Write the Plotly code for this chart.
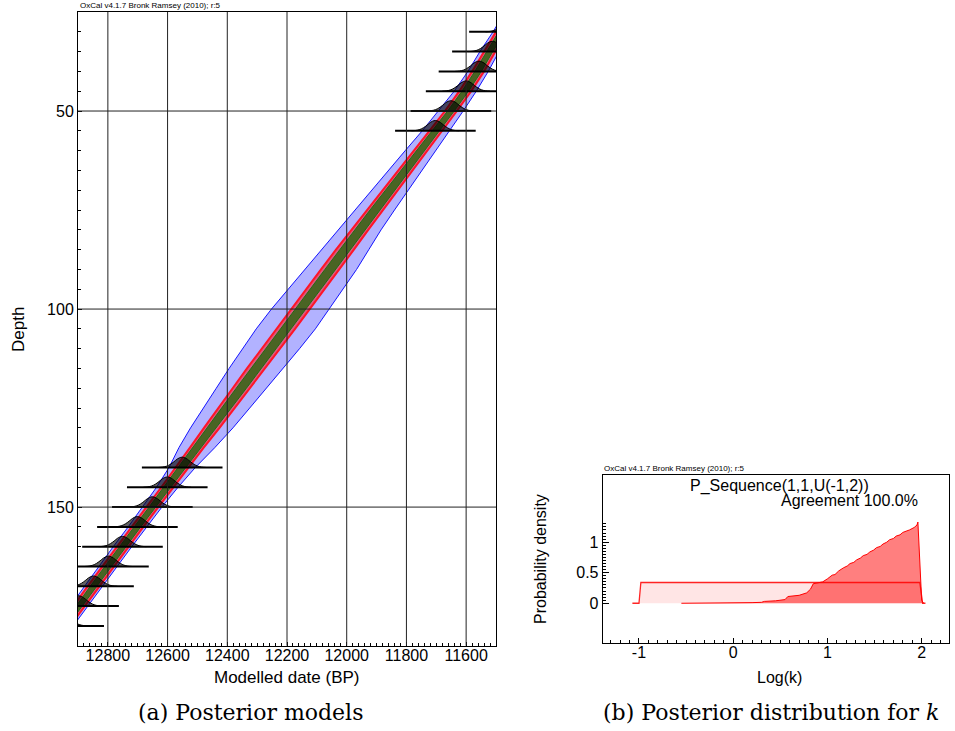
import plotly.graph_objects as go

# ---------------- data: left panel (age-depth model) ----------------
band_depth = [25, 30, 35, 40, 45, 50, 55, 60, 65, 70, 75, 80, 85, 90, 95, 100, 105,
              110, 115, 120, 125, 130, 135, 140, 145, 150, 155, 160, 165, 170, 175, 180, 185]
band_center = [11440, 11480, 11522, 11560, 11603, 11651, 11702, 11752, 11803, 11855, 11906,
               11957, 12006, 12055, 12105, 12155, 12204, 12254, 12304, 12353, 12403, 12452,
               12502, 12551, 12601, 12651, 12701, 12751, 12799, 12848, 12895, 12945, 12995]
blue_hw = [30, 30, 32, 34, 37, 41, 45, 52, 57, 61, 66, 72, 80, 88, 93, 97, 99,
           96, 90, 84, 78, 71, 60, 44, 36, 32, 31, 31, 30, 30, 29, 29, 29]
red_hw = [20, 20, 20, 20, 20, 20, 21, 23, 25, 27, 28, 29, 30, 31, 31, 31, 31,
          31, 30, 29, 28, 26, 23, 21, 20, 20, 20, 20, 20, 20, 20, 20, 20]
green_hw = [11, 11, 11, 11, 11, 11, 12, 13, 14, 15, 16, 17, 17, 18, 18, 18, 18,
            18, 17, 17, 16, 15, 13, 12, 11, 11, 11, 11, 11, 11, 11, 11, 11]

# individual depth posteriors (humps)
hump_depth = [30, 35, 40, 45, 50, 55, 140, 145, 150, 155, 160, 165, 170, 175, 180]
hump_center = [11455, 11512, 11557, 11600, 11651, 11703, 12551, 12601, 12651, 12701,
               12751, 12798, 12848, 12898, 12948]
hump_offset = [-80, -65, -52, -40, -28, -17, -9, 0, 9, 17, 28, 40, 52, 65, 80]
hump_profile = [0, 0.04, 0.13, 0.3, 0.55, 0.81, 0.94, 1, 0.94, 0.81, 0.55, 0.3, 0.13, 0.04, 0]
hump_height = 2.6
hump_halfspan = 135

date_ticks = [12800, 12600, 12400, 12200, 12000, 11800, 11600]
date_ticktext = ["12800", "12600", "12400", "12200", "12000", "11800", "11600"]
depth_ticks = [50, 100, 150]
depth_ticktext = ["50", "100", "150"]

# ---------------- data: right panel (k posterior) ----------------
post_x = [-0.55, -0.2, 0.0, 0.1, 0.2, 0.3, 0.33, 0.45, 0.55, 0.58, 0.7, 0.78, 0.82, 0.85,
          0.95, 1.0, 1.05, 1.08, 1.12, 1.17, 1.21, 1.24, 1.28, 1.31, 1.35, 1.38, 1.42,
          1.45, 1.49, 1.52, 1.56, 1.59, 1.63, 1.66, 1.70, 1.73, 1.77,
          1.8, 1.84, 1.87, 1.92, 1.95, 1.96, 1.98, 2.0, 2.02]
post_y = [0, 0.001, 0.003, 0.006, 0.01, 0.015, 0.03, 0.04, 0.06, 0.11, 0.13, 0.17, 0.23,
          0.32, 0.35, 0.4, 0.46, 0.47, 0.53, 0.58, 0.61, 0.65, 0.67, 0.71, 0.74, 0.78, 0.80,
          0.84, 0.87, 0.91, 0.93, 0.97, 1.0, 1.04, 1.06, 1.1, 1.12,
          1.16, 1.18, 1.2, 1.24, 1.28, 1.33, 0.6, 0.05, 0]
prior_x = [-1.07, -1.0, -0.98, 1.98, 2.01, 2.04]
prior_y = [0, 0, 0.34, 0.34, 0, 0]
k_ticks = [-1, 0, 1, 2]
k_ticktext = ["-1", "0", "1", "2"]
dens_ticks = [0, 0.5, 1]
dens_ticktext = ["0", "0.5", "1"]

W, H = 955, 731
SANS = "Liberation Sans, Arial, sans-serif"
SERIF = "DejaVu Serif, serif"

fig = go.Figure()


def band(hw, fillcolor, linecolor, lw):
    left = [c + h for c, h in zip(band_center, hw)]
    right = [c - h for c, h in zip(band_center, hw)]
    fig.add_trace(go.Scatter(
        x=left + right[::-1], y=band_depth + band_depth[::-1],
        fill="toself", fillcolor=fillcolor, mode="lines",
        line=dict(color=linecolor, width=lw), hoverinfo="skip",
        xaxis="x", yaxis="y"))


band(blue_hw, "rgba(0,0,255,0.3)", "rgb(20,20,255)", 1)
band(red_hw, "rgba(255,0,0,0.5)", "rgb(255,20,40)", 2)
band(green_hw, "rgb(74,100,36)", "rgb(30,110,20)", 1)

for d, c in zip(hump_depth, hump_center):
    hx = [c + o for o in hump_offset]
    hy = [d - hump_height * p for p in hump_profile]
    fig.add_trace(go.Scatter(x=hx, y=hy, fill="toself", fillcolor="rgba(0,0,0,0.62)",
                             mode="lines", line=dict(color="black", width=1, shape="spline"),
                             hoverinfo="skip", xaxis="x", yaxis="y"))
    fig.add_trace(go.Scatter(x=[c + hump_halfspan, c - hump_halfspan], y=[d, d],
                             mode="lines", line=dict(color="black", width=2),
                             hoverinfo="skip", xaxis="x", yaxis="y"))

# right panel
fig.add_trace(go.Scatter(x=post_x, y=post_y, fill="tozeroy", fillcolor="rgba(255,0,0,0.5)",
                         mode="lines", line=dict(color="rgb(255,0,0)", width=1),
                         hoverinfo="skip", xaxis="x2", yaxis="y2"))
fig.add_trace(go.Scatter(x=prior_x, y=prior_y, fill="tozeroy", fillcolor="rgba(255,0,0,0.1)",
                         mode="lines", line=dict(color="rgba(255,0,0,0.85)", width=1.3),
                         hoverinfo="skip", xaxis="x2", yaxis="y2"))

# grid lines above traces (left panel)
shapes = []
for t in date_ticks:
    shapes.append(dict(type="line", xref="x", yref="y domain", x0=t, x1=t, y0=0, y1=1,
                       line=dict(color="#222", width=1), layer="above"))
for t in depth_ticks:
    shapes.append(dict(type="line", xref="x domain", yref="y", x0=0, x1=1, y0=t, y1=t,
                       line=dict(color="#222", width=1), layer="above"))


def px(xp):
    return xp / W


def py(yp):
    return 1 - yp / H


annotations = [
    dict(text="OxCal v4.1.7 Bronk Ramsey (2010); r:5", x=px(78), y=py(11.5), xanchor="left",
         yanchor="bottom", font=dict(size=8, family=SANS)),
    dict(text="OxCal v4.1.7 Bronk Ramsey (2010); r:5", x=px(602), y=py(474.5), xanchor="left",
         yanchor="bottom", font=dict(size=8, family=SANS)),
    dict(text="P_Sequence(1,1,U(-1,2))", x=px(779), y=py(486), xanchor="center",
         yanchor="middle", font=dict(size=16, family=SANS)),
    dict(text="Agreement 100.0%", x=px(920), y=py(500.5), xanchor="right",
         yanchor="middle", font=dict(size=16, family=SANS)),
    dict(text="Modelled date (BP)", x=px(287), y=py(677), xanchor="center",
         yanchor="middle", font=dict(size=17, family=SANS)),
    dict(text="Depth", x=px(18), y=py(330), xanchor="center", yanchor="middle",
         textangle=-90, font=dict(size=17, family=SANS)),
    dict(text="Log(k)", x=px(779), y=py(677), xanchor="center", yanchor="middle",
         font=dict(size=16, family=SANS)),
    dict(text="Probability density", x=px(540), y=py(559), xanchor="center",
         yanchor="middle", textangle=-90, font=dict(size=16, family=SANS)),
    dict(text="(a) Posterior models", x=px(250), y=py(712), xanchor="center",
         yanchor="middle", font=dict(size=22, family=SERIF)),
    dict(text="(b) Posterior distribution for <i>k</i>", x=px(771), y=py(712),
         xanchor="center", yanchor="middle", font=dict(size=22, family=SERIF)),
]
for a in annotations:
    a.update(xref="paper", yref="paper", showarrow=False, font_color="black")

axis_common = dict(showline=True, linecolor="black", linewidth=1, mirror=True,
                   showgrid=False, zeroline=False, ticks="inside", tickcolor="black",
                   tickfont=dict(size=16, family=SANS, color="black"), fixedrange=True)

fig.update_layout(
    width=W, height=H, margin=dict(l=0, r=0, t=0, b=0),
    paper_bgcolor="white", plot_bgcolor="white", showlegend=False,
    xaxis=dict(domain=[px(78), px(496)], range=[12900, 11500], tickmode="array",
               tickvals=date_ticks, ticktext=date_ticktext, ticklen=4, anchor="y",
               ticklabelstandoff=-5,
               minor=dict(dtick=20, tick0=0, ticklen=3, ticks="inside", tickcolor="black"),
               **axis_common),
    yaxis=dict(domain=[py(645.7), py(12)], range=[185, 25], tickmode="array",
               tickvals=depth_ticks, ticktext=depth_ticktext, ticklen=4, anchor="x",
               minor=dict(dtick=5, tick0=0, ticklen=3, ticks="inside", tickcolor="black"),
               **axis_common),
    xaxis2=dict(domain=[px(602.7), px(949)], range=[-1.385, 2.29], tickmode="array",
                tickvals=k_ticks, ticktext=k_ticktext, ticklen=5, anchor="y2",
                ticklabelstandoff=-5,
                minor=dict(dtick=0.1, tick0=0, ticklen=3, ticks="inside", tickcolor="black"),
                **axis_common),
    yaxis2=dict(domain=[py(642.7), py(475)], range=[-0.646, 2.1], tickmode="array",
                tickvals=dens_ticks, ticktext=dens_ticktext, ticklen=6, anchor="x2",
                minor=dict(tickmode="array", tickvals=[i * 0.05 for i in range(27)],
                           ticklen=3, ticks="inside", tickcolor="black"),
                **axis_common),
    shapes=shapes, annotations=annotations,
)

fig.write_html("out.html")
